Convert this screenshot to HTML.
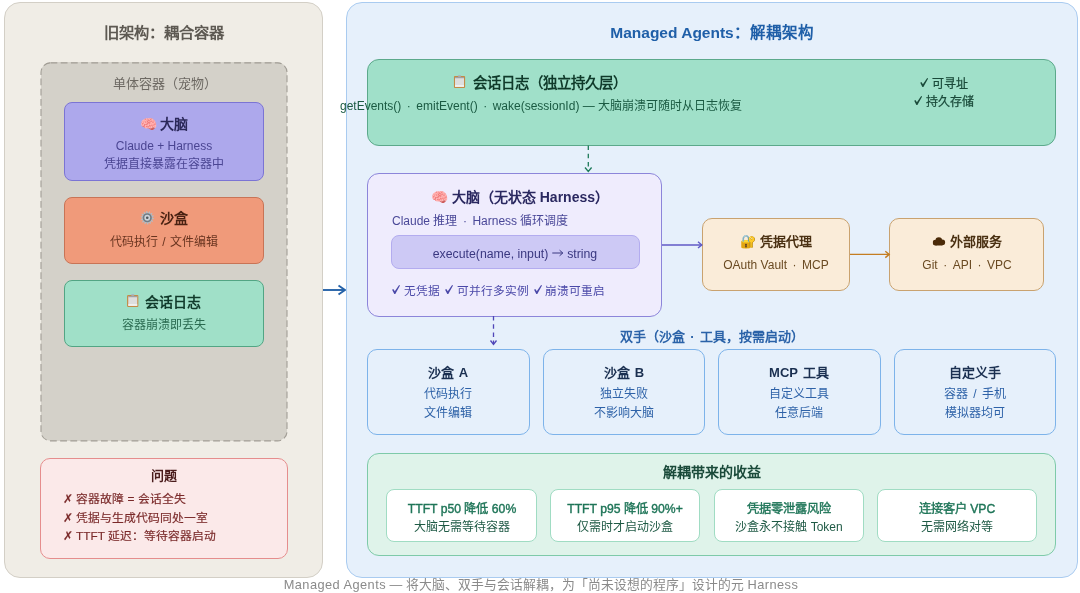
<!DOCTYPE html>
<html lang="zh-CN">
<head>
<meta charset="utf-8">
<style>
html,body{margin:0;padding:0;width:1080px;height:593px;overflow:hidden;background:#ffffff;font-family:"Liberation Sans",sans-serif;}
.b{position:absolute;box-sizing:border-box;}
.t{position:absolute;white-space:nowrap;transform:translateX(-50%);text-align:center;}
.l{position:absolute;white-space:nowrap;}
.d{margin:0 5.5px;}
.L{letter-spacing:0.45px;}
.t,.l{will-change:transform;}
.ck{display:inline-block;margin:0 3.8px 0 1.8px;}
.ck0{margin-left:0;}
.e{display:inline-block;}
svg.o{position:absolute;left:0;top:0;overflow:visible;}
</style>
</head>
<body>
<!-- LEFT PANEL -->
<div class="b" style="left:4px;top:1.5px;width:319px;height:576px;background:#f0ede6;border:1px solid #d3cfc6;border-radius:16px;"></div>
<div class="t" style="left:164px;top:22px;font-size:15.3px;line-height:22px;font-weight:bold;color:#5d5952;">旧架构：耦合容器</div>

<div class="b" style="left:40.5px;top:62.4px;width:246.5px;height:379px;background:#d4d1c9;border-radius:10px;"></div>
<svg class="o" width="1080" height="593"><rect x="41" y="62.9" width="246" height="378" rx="9.5" ry="9.5" fill="none" stroke="#a19d95" stroke-width="1.1" stroke-dasharray="6.8 3.4"/></svg>
<div class="t" style="left:164.5px;top:75px;font-size:13px;line-height:18px;color:#6d6963;">单体容器（宠物）</div>

<div class="b" style="left:63.9px;top:101.7px;width:200.2px;height:79.6px;background:#ada8ec;border:1px solid #7b74d4;border-radius:8px;"></div>
<div class="t" style="left:164px;top:114px;font-size:14px;line-height:20px;font-weight:bold;color:#2b285a;">🧠 大脑</div>
<div class="t" style="left:164px;top:137px;font-size:12px;line-height:18px;color:#4a4592;">Claude + Harness</div>
<div class="t" style="left:164px;top:155px;font-size:12px;line-height:18px;color:#4a4592;">凭据直接暴露在容器中</div>

<div class="b" style="left:63.9px;top:196.7px;width:200.2px;height:67.3px;background:#f09a7a;border:1px solid #c87456;border-radius:8px;"></div>
<div class="t" style="left:164px;top:208px;font-size:14px;line-height:20px;font-weight:bold;color:#4a2212;"><svg width="13.5" height="13.5" style="vertical-align:-1.5px;margin-right:5.5px"><path d="M11.95,6.75 L13.48,7.29 L13.33,8.25 L11.71,8.31 L11.44,9.01 L12.58,10.16 L12.03,10.96 L10.54,10.31 L9.99,10.82 L10.52,12.35 L9.68,12.83 L8.62,11.60 L7.91,11.82 L7.72,13.43 L6.75,13.50 L6.33,11.93 L5.59,11.82 L4.72,13.19 L3.82,12.83 L4.12,11.24 L3.51,10.82 L2.13,11.67 L1.47,10.96 L2.44,9.65 L2.06,9.01 L0.45,9.18 L0.17,8.25 L1.60,7.49 L1.55,6.75 L0.02,6.21 L0.17,5.25 L1.79,5.19 L2.06,4.49 L0.92,3.34 L1.47,2.54 L2.96,3.19 L3.51,2.68 L2.98,1.15 L3.82,0.67 L4.88,1.90 L5.59,1.68 L5.78,0.07 L6.75,0.00 L7.17,1.57 L7.91,1.68 L8.78,0.31 L9.68,0.67 L9.38,2.26 L9.99,2.68 L11.37,1.83 L12.03,2.54 L11.06,3.85 L11.44,4.49 L13.05,4.32 L13.33,5.25 L11.90,6.01 Z" fill="#b3bcc4"/><circle cx="6.75" cy="6.75" r="4.6" fill="#727c84"/><circle cx="6.75" cy="6.75" r="2.9" fill="#cdd4da"/><circle cx="6.75" cy="6.75" r="1.3" fill="#4e565d"/></svg>沙盒</div>
<div class="t" style="left:164px;top:232.5px;font-size:12px;line-height:18px;color:#6a3520;">代码执行<span style="margin:0 1px"> / </span>文件编辑</div>

<div class="b" style="left:63.9px;top:279.7px;width:200.2px;height:67.6px;background:#a0e0c8;border:1px solid #52a584;border-radius:8px;"></div>
<div class="t" style="left:164.2px;top:291.5px;font-size:14px;line-height:20px;font-weight:bold;color:#113b2b;"><svg width="12" height="13" style="vertical-align:-0.3px;margin-right:6.5px"><rect x="0.3" y="0.9" width="11.4" height="12" rx="1.2" fill="#c48b46"/><rect x="1.5" y="2.1" width="9" height="9.7" fill="#dedede"/><rect x="1.5" y="2.1" width="9" height="1.1" fill="#9c9c9c"/><rect x="1.5" y="10.2" width="9" height="1.6" fill="#f4f4f4"/><rect x="4.4" y="0" width="3.2" height="1.8" rx="0.8" fill="#a9b6c2"/></svg>会话日志</div>
<div class="t" style="left:164px;top:316px;font-size:12px;line-height:18px;color:#2a6a50;">容器崩溃即丢失</div>

<div class="b" style="left:39.7px;top:458px;width:248.2px;height:100.8px;background:#fbe9e9;border:1px solid #e58d8d;border-radius:10px;"></div>
<div class="t" style="left:164px;top:465.5px;font-size:13px;line-height:20px;font-weight:bold;color:#4a1c1c;">问题</div>
<div class="l" style="left:63px;top:490px;font-size:11.8px;line-height:18px;color:#7a2a2a;-webkit-text-stroke:0.15px #7a2a2a;">✗ 容器故障 = 会话全失</div>
<div class="l" style="left:63px;top:508.5px;font-size:11.8px;line-height:18px;color:#7a2a2a;-webkit-text-stroke:0.15px #7a2a2a;">✗ 凭据与生成代码同处一室</div>
<div class="l" style="left:63px;top:527px;font-size:11.8px;line-height:18px;color:#7a2a2a;-webkit-text-stroke:0.15px #7a2a2a;">✗ TTFT 延迟：等待容器启动</div>

<!-- arrow left->right -->
<svg class="o" width="1080" height="593">
  <line x1="323" y1="290" x2="345" y2="290" stroke="#2562a8" stroke-width="1.9"/>
  <polyline points="338.5,285.5 345,290 338.5,294.5" fill="none" stroke="#2562a8" stroke-width="1.9"/>
</svg>

<!-- RIGHT PANEL -->
<div class="b" style="left:345.5px;top:2px;width:732px;height:575.5px;background:#e6f0fb;border:1px solid #a9cbf0;border-radius:16px;"></div>
<div class="t" style="left:711.5px;top:22px;font-size:15.5px;line-height:22px;font-weight:bold;color:#1f5fa8;">Managed Agents：解耦架构</div>

<div class="b" style="left:366.8px;top:58.8px;width:689.2px;height:87px;background:#a0e0c9;border:1px solid #5ca98b;border-radius:12px;"></div>
<div class="t" style="left:539.5px;top:72.5px;font-size:14.4px;line-height:20px;font-weight:bold;color:#0f3a2a;"><svg width="12" height="13" style="vertical-align:0.3px;margin-right:7px"><rect x="0.3" y="0.9" width="11.4" height="12" rx="1.2" fill="#c48b46"/><rect x="1.5" y="2.1" width="9" height="9.7" fill="#dedede"/><rect x="1.5" y="2.1" width="9" height="1.1" fill="#9c9c9c"/><rect x="1.5" y="10.2" width="9" height="1.6" fill="#f4f4f4"/><rect x="4.4" y="0" width="3.2" height="1.8" rx="0.8" fill="#a9b6c2"/></svg>会话日志（独立持久层）</div>
<div class="t" style="left:540.5px;top:97px;font-size:12px;line-height:18px;color:#1a5a42;">getEvents()<span class="d">·</span>emitEvent()<span class="d">·</span>wake(sessionId) — 大脑崩溃可随时从日志恢复</div>
<div class="t" style="left:944px;top:75px;font-size:12px;line-height:18px;color:#1a4a3a;-webkit-text-stroke:0.25px #1a4a3a;"><svg class="ck ck0" width="8" height="9" style="vertical-align:1.5px"><path d="M0.1,4.7 L1.3,3.9 L2.8,6.3 L7.1,0 L8,0.6 L3.3,8.9 L2.3,8.9 Z" fill="currentColor"/></svg>可寻址</div>
<div class="t" style="left:944px;top:93px;font-size:12px;line-height:18px;color:#1a4a3a;-webkit-text-stroke:0.25px #1a4a3a;"><svg class="ck ck0" width="8" height="9" style="vertical-align:1.5px"><path d="M0.1,4.7 L1.3,3.9 L2.8,6.3 L7.1,0 L8,0.6 L3.3,8.9 L2.3,8.9 Z" fill="currentColor"/></svg>持久存储</div>

<div class="b" style="left:367.1px;top:172.9px;width:295.4px;height:144.3px;background:#efecfd;border:1px solid #8c85da;border-radius:12px;"></div>
<div class="t" style="left:519.5px;top:187px;font-size:14px;line-height:20px;font-weight:bold;color:#2a2860;">🧠 大脑（无状态 Harness）</div>
<div class="l" style="left:391.5px;top:211.5px;font-size:12px;line-height:18px;color:#4a4898;">Claude 推理<span class="d">·</span>Harness 循环调度</div>
<div class="b" style="left:390.5px;top:234.8px;width:249px;height:34.2px;background:#cdc9f5;border:1px solid #b3acef;border-radius:8px;"></div>
<div class="t" style="left:515px;top:244.5px;font-size:12.3px;line-height:18px;color:#3a3880;">execute(name, input) <svg width="12" height="8" style="vertical-align:1px"><path d="M0.5 4H11M7.8 1.2L11 4L7.8 6.8" fill="none" stroke="#3a3880" stroke-width="1"/></svg> string</div>
<div class="l" style="left:391.5px;top:282px;font-size:11.7px;line-height:18px;color:#4a48a8;"><svg class="ck ck0" width="8" height="9" style="vertical-align:0.8px"><path d="M0.1,4.7 L1.3,3.9 L2.8,6.3 L7.1,0 L8,0.6 L3.3,8.9 L2.3,8.9 Z" fill="currentColor"/></svg>无凭据 <svg class="ck" width="8" height="9" style="vertical-align:0.8px"><path d="M0.1,4.7 L1.3,3.9 L2.8,6.3 L7.1,0 L8,0.6 L3.3,8.9 L2.3,8.9 Z" fill="currentColor"/></svg>可并行多实例 <svg class="ck" width="8" height="9" style="vertical-align:0.8px"><path d="M0.1,4.7 L1.3,3.9 L2.8,6.3 L7.1,0 L8,0.6 L3.3,8.9 L2.3,8.9 Z" fill="currentColor"/></svg>崩溃可重启</div>

<div class="b" style="left:701.5px;top:217.7px;width:148.8px;height:73.3px;background:#faecd9;border:1px solid #c9a26f;border-radius:10px;"></div>
<div class="t" style="left:776px;top:232px;font-size:13px;line-height:20px;font-weight:bold;color:#4a3012;">🔐 凭据代理</div>
<div class="t" style="left:776px;top:256px;font-size:12px;line-height:18px;color:#6a4a22;">OAuth Vault<span class="d">·</span>MCP</div>

<div class="b" style="left:889px;top:217.7px;width:155.2px;height:73.3px;background:#faecd9;border:1px solid #c9a26f;border-radius:10px;"></div>
<div class="t" style="left:966.5px;top:232px;font-size:13px;line-height:20px;font-weight:bold;color:#4a3012;"><svg width="13" height="9" style="vertical-align:0px;margin-right:4px"><g fill="#4a2a08"><circle cx="3" cy="5.6" r="2.9"/><circle cx="6.3" cy="3.6" r="3.3"/><circle cx="9.8" cy="5.3" r="2.9"/><rect x="3" y="4.5" width="6.8" height="4"/></g></svg>外部服务</div>
<div class="t" style="left:966.5px;top:256px;font-size:12px;line-height:18px;color:#6a4a22;">Git<span class="d">·</span>API<span class="d">·</span>VPC</div>

<div class="t" style="left:711.9px;top:327px;font-size:13px;line-height:20px;font-weight:bold;color:#2a62a8;">双手（沙盒<span class="d">·</span>工具，按需启动）</div>

<div class="b" style="left:367px;top:349px;width:163px;height:86px;background:#e6f0fb;border:1px solid #7db3ea;border-radius:10px;"></div>
<div class="t" style="left:448px;top:363px;font-size:13px;line-height:20px;font-weight:bold;color:#1a2f50;word-spacing:1.5px;">沙盒 A</div>
<div class="t" style="left:448px;top:384.8px;font-size:12px;line-height:18px;color:#2e62a8;">代码执行</div>
<div class="t" style="left:448px;top:403.5px;font-size:12px;line-height:18px;color:#2e62a8;">文件编辑</div>

<div class="b" style="left:543px;top:349px;width:162px;height:86px;background:#e6f0fb;border:1px solid #7db3ea;border-radius:10px;"></div>
<div class="t" style="left:623.5px;top:363px;font-size:13px;line-height:20px;font-weight:bold;color:#1a2f50;word-spacing:1.5px;">沙盒 B</div>
<div class="t" style="left:623.5px;top:384.8px;font-size:12px;line-height:18px;color:#2e62a8;">独立失败</div>
<div class="t" style="left:623.5px;top:403.5px;font-size:12px;line-height:18px;color:#2e62a8;">不影响大脑</div>

<div class="b" style="left:717.8px;top:349px;width:162.9px;height:86px;background:#e6f0fb;border:1px solid #7db3ea;border-radius:10px;"></div>
<div class="t" style="left:799px;top:363px;font-size:13px;line-height:20px;font-weight:bold;color:#1a2f50;word-spacing:1.5px;">MCP 工具</div>
<div class="t" style="left:799px;top:384.8px;font-size:12px;line-height:18px;color:#2e62a8;">自定义工具</div>
<div class="t" style="left:799px;top:403.5px;font-size:12px;line-height:18px;color:#2e62a8;">任意后端</div>

<div class="b" style="left:893.7px;top:349px;width:162.3px;height:86px;background:#e6f0fb;border:1px solid #7db3ea;border-radius:10px;"></div>
<div class="t" style="left:975px;top:363px;font-size:13px;line-height:20px;font-weight:bold;color:#1a2f50;word-spacing:1.5px;">自定义手</div>
<div class="t" style="left:975px;top:384.8px;font-size:12px;line-height:18px;color:#2e62a8;">容器<span style="margin:0 2px"> / </span>手机</div>
<div class="t" style="left:975px;top:403.5px;font-size:12px;line-height:18px;color:#2e62a8;">模拟器均可</div>

<div class="b" style="left:367px;top:453px;width:689px;height:102.8px;background:#dff3ea;border:1px solid #7ecaa9;border-radius:12px;"></div>
<div class="t" style="left:711.5px;top:462px;font-size:14px;line-height:20px;font-weight:bold;color:#1a4a3a;">解耦带来的收益</div>

<div class="b" style="left:386px;top:488.8px;width:151px;height:53px;background:#ffffff;border:1px solid #a0dcc3;border-radius:8px;"></div>
<div class="t" style="left:461.5px;top:499.5px;font-size:12.2px;line-height:18px;color:#1f7558;-webkit-text-stroke:0.4px #1f7558;">TTFT p50 降低 60%</div>
<div class="t" style="left:461.5px;top:517.5px;font-size:12px;line-height:18px;color:#1f5a45;">大脑无需等待容器</div>

<div class="b" style="left:549.9px;top:488.8px;width:150px;height:53px;background:#ffffff;border:1px solid #a0dcc3;border-radius:8px;"></div>
<div class="t" style="left:625px;top:499.5px;font-size:12.2px;line-height:18px;color:#1f7558;-webkit-text-stroke:0.4px #1f7558;">TTFT p95 降低 90%+</div>
<div class="t" style="left:625px;top:517.5px;font-size:12px;line-height:18px;color:#1f5a45;">仅需时才启动沙盒</div>

<div class="b" style="left:714.1px;top:488.8px;width:149.9px;height:53px;background:#ffffff;border:1px solid #a0dcc3;border-radius:8px;"></div>
<div class="t" style="left:789px;top:499.5px;font-size:12.2px;line-height:18px;color:#1f7558;-webkit-text-stroke:0.4px #1f7558;">凭据零泄露风险</div>
<div class="t" style="left:789px;top:517.5px;font-size:12px;line-height:18px;color:#1f5a45;">沙盒永不接触 Token</div>

<div class="b" style="left:877.2px;top:488.8px;width:159.8px;height:53px;background:#ffffff;border:1px solid #a0dcc3;border-radius:8px;"></div>
<div class="t" style="left:957px;top:499.5px;font-size:12.2px;line-height:18px;color:#1f7558;-webkit-text-stroke:0.4px #1f7558;">连接客户 VPC</div>
<div class="t" style="left:957px;top:517.5px;font-size:12px;line-height:18px;color:#1f5a45;">无需网络对等</div>

<!-- connectors -->
<svg class="o" width="1080" height="593">
  <line x1="588.3" y1="145.5" x2="588.3" y2="171" stroke="#1e7a5a" stroke-width="1.3" stroke-dasharray="4.6 3.6"/>
  <polyline points="585,167.5 588.3,171.5 591.6,167.5" fill="none" stroke="#1e7a5a" stroke-width="1.3"/>
  <line x1="493.5" y1="316" x2="493.5" y2="344" stroke="#5046b8" stroke-width="1.3" stroke-dasharray="4.6 3.6"/>
  <polyline points="490.5,340.5 493.5,344.5 496.5,340.5" fill="none" stroke="#5046b8" stroke-width="1.3"/>
  <line x1="662" y1="244.9" x2="701.5" y2="244.9" stroke="#605ac6" stroke-width="1.5"/>
  <polyline points="698,241.8 701.8,244.9 698,248" fill="none" stroke="#605ac6" stroke-width="1.4"/>
  <line x1="850" y1="254.4" x2="889" y2="254.4" stroke="#c47d22" stroke-width="1.4"/>
  <polyline points="885.3,251.2 889.2,254.4 885.3,257.6" fill="none" stroke="#c47d22" stroke-width="1.4"/>
</svg>

<div class="t" style="left:541px;top:575.5px;font-size:12.8px;line-height:18px;color:#8a8a8a;"><span class="L">Managed Agents</span> — 将大脑、双手与会话解耦，为「尚未设想的程序」设计的元 <span class="L">Harness</span></div>
</body>
</html>
